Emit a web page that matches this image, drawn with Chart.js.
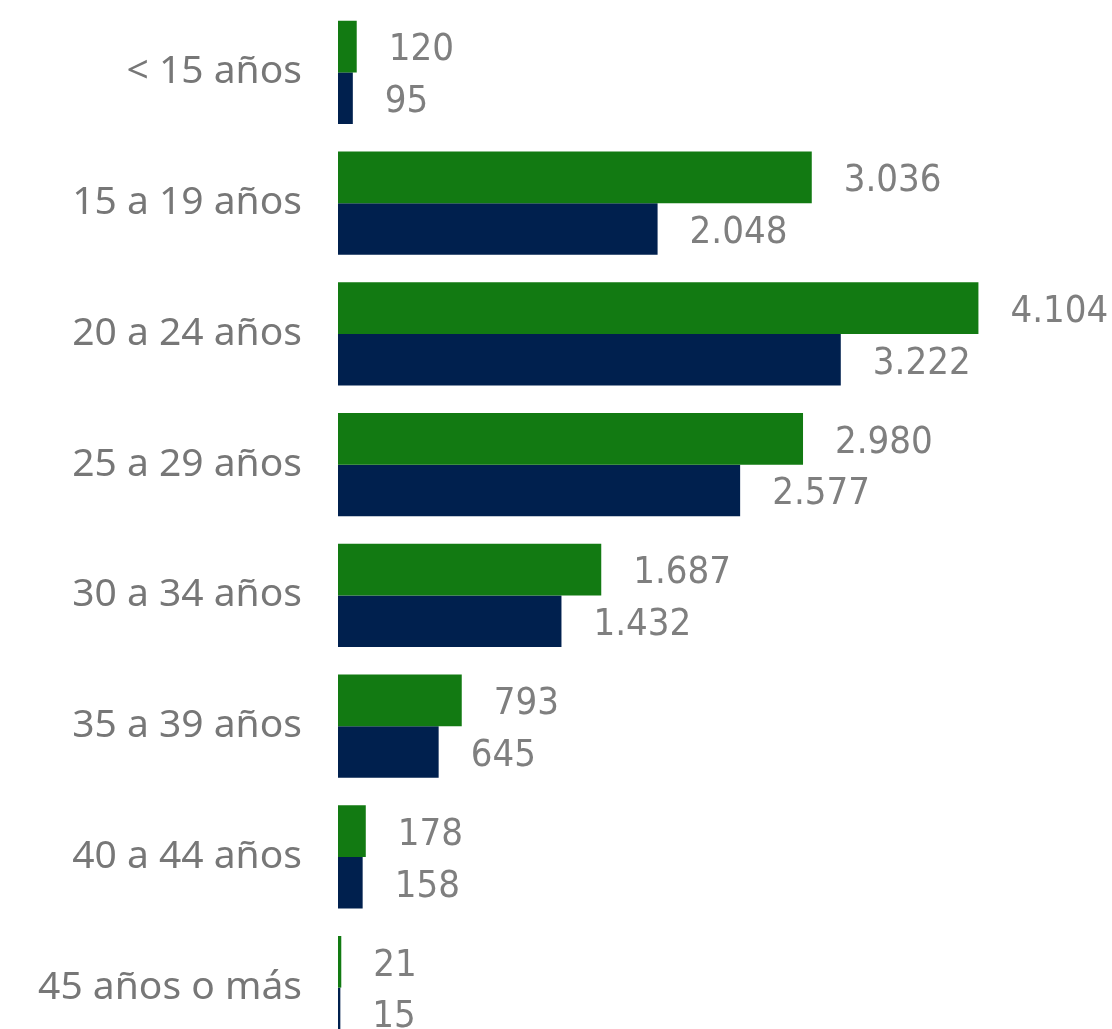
<!DOCTYPE html>
<html lang="es">
<head>
    <meta charset="UTF-8">
    <title>Distribución por edad</title>
    <script src="https://cdn.jsdelivr.net/npm/chart.js"></script>
    <style>
        html, body { margin: 0; padding: 0; background: #fff; overflow: hidden; }
        #wrap { position: relative; width: 1112px; height: 1053px; }
    </style>
    <script>
        // Grupos de edad
        const categorias = ["< 15 años", "15 a 19 años", "20 a 24 años", "25 a 29 años",
                            "30 a 34 años", "35 a 39 años", "40 a 44 años", "45 años o más"];
        // Serie verde (superior) y serie azul (inferior)
        const serieVerde = [120, 3036, 4104, 2980, 1687, 793, 178, 21];
        const serieAzul = [95, 2048, 3222, 2577, 1432, 645, 158, 15];

        // Etiquetas de valor con punto de miles
        function fmt(v) {
            return v.toString().replace(/\B(?=(\d{3})+(?!\d))/g, '.');
        }

        const valueLabels = {
            id: 'valueLabels',
            afterDatasetsDraw(chart) {
                const ctx = chart.ctx;
                ctx.save();
                ctx.font = '38px "DejaVu Sans Condensed", "DejaVu Sans", sans-serif';
                ctx.fillStyle = '#7f7f7f';
                ctx.textAlign = 'left';
                ctx.textBaseline = 'middle';
                chart.data.datasets.forEach((ds, i) => {
                    chart.getDatasetMeta(i).data.forEach((bar, j) => {
                        ctx.fillText(fmt(ds.data[j]), bar.x + 32, bar.y + 4);
                    });
                });
                ctx.restore();
            }
        };

        function drawChart() {
            const ctx = document.getElementById('edadChart').getContext('2d');
            new Chart(ctx, {
                type: 'bar',
                data: {
                    labels: categorias,
                    datasets: [
                        { data: serieVerde, backgroundColor: '#127a12' },
                        { data: serieAzul, backgroundColor: '#00204e' }
                    ]
                },
                options: {
                    indexAxis: 'y',
                    responsive: true,
                    maintainAspectRatio: false,
                    animation: false,
                    datasets: { bar: { categoryPercentage: 0.79, barPercentage: 1.0 } },
                    layout: { padding: { top: 7, right: 0, bottom: 0, left: 0 } },
                    plugins: { legend: { display: false }, tooltip: { enabled: false } },
                    scales: {
                        x: { display: false, min: 0, max: 4960 },
                        y: {
                            grid: { display: false, drawTicks: false },
                            border: { display: false },
                            afterFit(scale) {
                                scale.width = 338;
                                scale.paddingTop = 0;
                                scale.paddingBottom = 0;
                            },
                            ticks: {
                                padding: 36,
                                color: '#777777',
                                font: { family: '"Noto Sans", "Open Sans", sans-serif', size: 39 }
                            }
                        }
                    }
                },
                plugins: [valueLabels]
            });
        }

        window.onload = drawChart;
    </script>
</head>
<body>
    <div id="wrap"><canvas id="edadChart"></canvas></div>
</body>
</html>
